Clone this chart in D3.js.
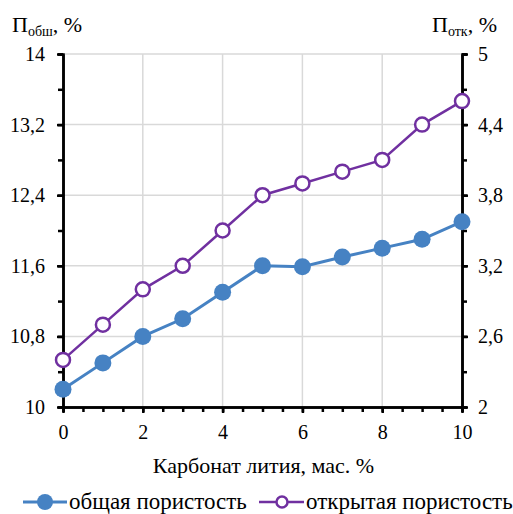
<!DOCTYPE html>
<html>
<head>
  <meta charset="utf-8" />
  <title>Пористость</title>
  <style>
    body { margin: 0; background: #fff; }
    svg text { font-family: "Liberation Serif", "Times New Roman", Times, serif !important; fill: #000; }
    .grid line { stroke: #d9d9d9; stroke-width: 1.5px; }
  </style>
  <script src="https://cdnjs.cloudflare.com/ajax/libs/d3/7.8.5/d3.min.js"></script>
</head>
<body>
  <div id="chart"></div>
  <script>
    // data
    var carbonate = [0, 1, 2, 3, 4, 5, 6, 7, 8, 9, 10];
    var totalPorosity = [10.2, 10.5, 10.8, 11.0, 11.3, 11.6, 11.59, 11.7, 11.8, 11.9, 12.1];
    var openPorosity = [2.4, 2.7, 3.0, 3.2, 3.5, 3.8, 3.9, 4.0, 4.1, 4.4, 4.6];
    var leftTicks = [10, 10.8, 11.6, 12.4, 13.2, 14];
    var rightTicks = [2, 2.6, 3.2, 3.8, 4.4, 5];
    var xTicks = [0, 2, 4, 6, 8, 10];

    var W = 513, H = 514;
    var margin = { top: 54, right: 51, bottom: 107, left: 63 };
    var w = W - margin.left - margin.right,
      h = H - margin.top - margin.bottom;

    var blue = '#4682c3', purple = '#7030a0';
    var serif = '"Liberation Serif", "Times New Roman", Times, serif';
    var fmt = d => String(+d.toFixed(1)).replace('.', ',');

    var svg = d3.select('#chart').append('svg')
      .attr('width', W).attr('height', H)
      .attr('font-family', serif);

    var g = svg.append('g')
      .attr('transform', 'translate(' + margin.left + ',' + margin.top + ')');

    var x = d3.scaleLinear().domain([0, 10]).range([0, w]);
    var yL = d3.scaleLinear().domain([10, 14]).range([h, 0]);
    var yR = d3.scaleLinear().domain([2, 5]).range([h, 0]);

    // grid
    var grid = g.append('g').attr('class', 'grid');
    grid.selectAll('.gx').data(xTicks.slice(1, -1)).enter().append('line')
      .attr('x1', d => x(d)).attr('x2', d => x(d))
      .attr('y1', 0).attr('y2', h);
    grid.selectAll('.gy').data(leftTicks.slice(1)).enter().append('line')
      .attr('x1', 0).attr('x2', w)
      .attr('y1', d => yL(d)).attr('y2', d => yL(d));

    // minor ticks
    var minorX = d3.range(0, 10.01, 0.5);
    var minorL = d3.range(10, 14.01, 0.4);
    var minorR = d3.range(2, 5.01, 0.3);

    function styleAxis(sel) {
      sel.attr('font-family', serif).attr('font-size', 20);
      sel.select('.domain').attr('stroke-width', 2.5);
      sel.selectAll('.tick line').attr('stroke-width', 2.5);
    }

    g.append('g').attr('transform', 'translate(0,' + h + ')')
      .call(d3.axisBottom(x).tickValues(minorX).tickSize(5).tickFormat(''))
      .call(styleAxis);
    g.append('g').attr('transform', 'translate(0,' + h + ')')
      .call(d3.axisBottom(x).tickValues(xTicks).tickSize(6).tickSizeOuter(0).tickPadding(12).tickFormat(fmt))
      .call(styleAxis);

    g.append('g')
      .call(d3.axisLeft(yL).tickValues(minorL).tickSize(5).tickFormat(''))
      .call(styleAxis);
    g.append('g')
      .call(d3.axisLeft(yL).tickValues(leftTicks).tickSize(6).tickSizeOuter(0).tickPadding(12).tickFormat(fmt))
      .call(styleAxis);

    g.append('g').attr('transform', 'translate(' + w + ',0)')
      .call(d3.axisRight(yR).tickValues(minorR).tickSize(5).tickFormat(''))
      .call(styleAxis);
    g.append('g').attr('transform', 'translate(' + w + ',0)')
      .call(d3.axisRight(yR).tickValues(rightTicks).tickSize(6).tickSizeOuter(0).tickPadding(10).tickFormat(fmt))
      .call(styleAxis);

    // series
    var totalData = carbonate.map((c, i) => ({ x: c, y: totalPorosity[i] }));
    var openData = carbonate.map((c, i) => ({ x: c, y: openPorosity[i] }));

    g.append('path').datum(totalData)
      .attr('fill', 'none').attr('stroke', blue).attr('stroke-width', 3)
      .attr('d', d3.line().x(d => x(d.x)).y(d => yL(d.y)));
    g.selectAll('.pt').data(totalData).enter().append('circle')
      .attr('cx', d => x(d.x)).attr('cy', d => yL(d.y))
      .attr('r', 8.5).attr('fill', blue);

    g.append('path').datum(openData)
      .attr('fill', 'none').attr('stroke', purple).attr('stroke-width', 2.5)
      .attr('d', d3.line().x(d => x(d.x)).y(d => yR(d.y)));
    g.selectAll('.po').data(openData).enter().append('circle')
      .attr('cx', d => x(d.x)).attr('cy', d => yR(d.y))
      .attr('r', 7).attr('fill', '#fff')
      .attr('stroke', purple).attr('stroke-width', 2.5);

    // axis titles
    var tl = svg.append('text').attr('x', 12).attr('y', 32).attr('font-size', 22);
    tl.append('tspan').text('П');
    tl.append('tspan').attr('dy', 4).attr('font-size', 14).text('обш');
    tl.append('tspan').attr('dy', -4).text(', %');

    var tr = svg.append('text').attr('x', 432).attr('y', 32).attr('font-size', 22);
    tr.append('tspan').text('П');
    tr.append('tspan').attr('dy', 4).attr('font-size', 14).text('отк');
    tr.append('tspan').attr('dy', -4).text(', %');

    svg.append('text').attr('x', margin.left + w / 2 + 1).attr('y', 473)
      .attr('text-anchor', 'middle').attr('font-size', 22)
      .text('Карбонат лития, мас. %');

    // legend
    var legend = svg.append('g').attr('transform', 'translate(0,502)');
    legend.append('line').attr('x1', 23).attr('x2', 67).attr('y1', 0).attr('y2', 0)
      .attr('stroke', blue).attr('stroke-width', 3);
    legend.append('circle').attr('cx', 45).attr('cy', 0).attr('r', 8).attr('fill', blue);
    legend.append('text').attr('x', 69).attr('y', 7).attr('font-size', 23).text('общая пористость');

    legend.append('line').attr('x1', 259).attr('x2', 304).attr('y1', 0).attr('y2', 0)
      .attr('stroke', purple).attr('stroke-width', 2.5);
    legend.append('circle').attr('cx', 282).attr('cy', 0).attr('r', 5.5).attr('fill', '#fff')
      .attr('stroke', purple).attr('stroke-width', 2.5);
    legend.append('text').attr('x', 306).attr('y', 7).attr('font-size', 23).text('открытая пористость');
  </script>
</body>
</html>
